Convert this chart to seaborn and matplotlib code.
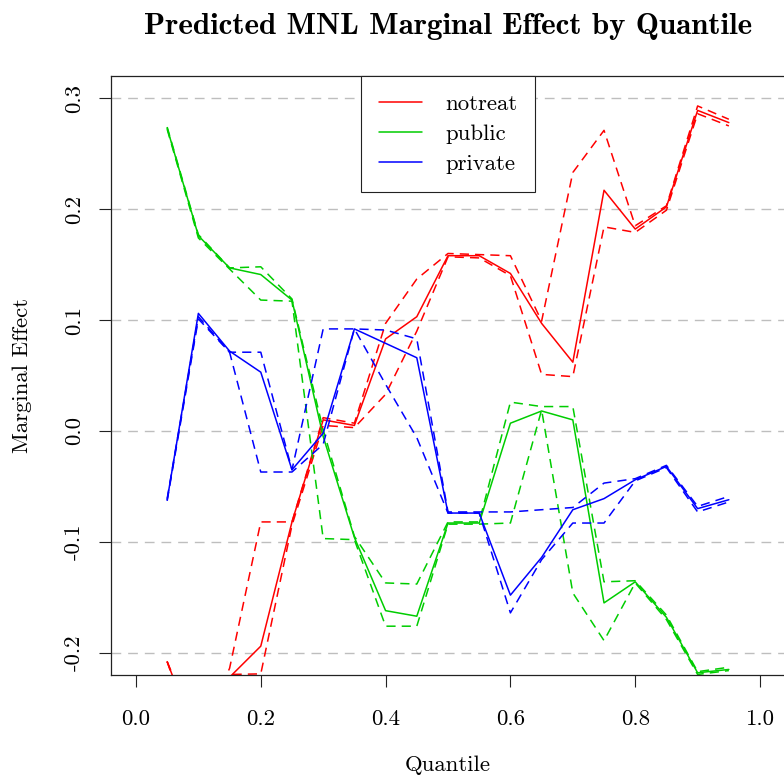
import numpy as np
import pandas as pd
import matplotlib
matplotlib.use('Agg')
import matplotlib.pyplot as plt
from matplotlib.lines import Line2D
import seaborn as sns

# quantiles where the marginal effects were predicted
quantiles = [0.05, 0.10, 0.15, 0.20, 0.25, 0.30, 0.35, 0.40, 0.45, 0.50,
             0.55, 0.60, 0.65, 0.70, 0.75, 0.80, 0.85, 0.90, 0.95]

# estimate, lower and upper band for each outcome
notreat_est = [-0.208, -0.282, -0.222, -0.194, -0.082, 0.010, 0.005, 0.083, 0.103, 0.158,
               0.158, 0.142, 0.097, 0.062, 0.217, 0.182, 0.202, 0.289, 0.278]
notreat_lo = [-0.208, -0.290, -0.2195, -0.219, -0.085, 0.005, 0.003, 0.033, 0.090, 0.157,
              0.156, 0.140, 0.051, 0.049, 0.184, 0.179, 0.199, 0.286, 0.275]
notreat_hi = [-0.208, -0.275, -0.214, -0.082, -0.082, 0.012, 0.007, 0.097, 0.137, 0.160,
              0.159, 0.158, 0.099, 0.233, 0.271, 0.185, 0.203, 0.293, 0.281]

public_est = [0.273, 0.176, 0.147, 0.141, 0.118, -0.005, -0.096, -0.162, -0.167, -0.083,
              -0.083, 0.007, 0.018, 0.010, -0.155, -0.136, -0.168, -0.218, -0.215]
public_lo = [0.272, 0.174, 0.146, 0.118, 0.117, -0.097, -0.098, -0.176, -0.176, -0.084,
             -0.084, -0.083, 0.019, -0.146, -0.189, -0.137, -0.170, -0.2195, -0.216]
public_hi = [0.274, 0.177, 0.147, 0.148, 0.119, 0.001, -0.095, -0.137, -0.138, -0.082,
             -0.082, 0.026, 0.022, 0.022, -0.136, -0.135, -0.166, -0.217, -0.213]

private_est = [-0.062, 0.106, 0.072, 0.053, -0.035, -0.002, 0.092, 0.079, 0.066, -0.074,
               -0.074, -0.148, -0.114, -0.071, -0.061, -0.044, -0.032, -0.070, -0.062]
private_lo = [-0.063, 0.101, 0.071, -0.037, -0.037, -0.012, 0.092, 0.042, -0.006, -0.074,
              -0.074, -0.164, -0.116, -0.083, -0.083, -0.045, -0.033, -0.073, -0.064]
private_hi = [-0.061, 0.103, 0.071, 0.071, -0.035, 0.092, 0.092, 0.091, 0.083, -0.073,
              -0.073, -0.073, -0.071, -0.069, -0.047, -0.043, -0.031, -0.068, -0.059]

outcomes = ['notreat', 'public', 'private']
series = {
    'notreat': (notreat_est, notreat_lo, notreat_hi),
    'public': (public_est, public_lo, public_hi),
    'private': (private_est, private_lo, private_hi),
}

rows = []
for outcome in outcomes:
    for bound, vals in zip(['est', 'lo', 'hi'], series[outcome]):
        for q, v in zip(quantiles, vals):
            rows.append({'quantile': q, 'effect': v, 'outcome': outcome, 'bound': bound})
df = pd.DataFrame(rows)

sns.set_style('ticks')
plt.rcParams['font.family'] = ['cmr10', 'DejaVu Serif']
plt.rcParams['axes.unicode_minus'] = False
plt.rcParams['text.color'] = 'black'
plt.rcParams['axes.labelcolor'] = 'black'

fs = 16.4
fig = plt.figure(figsize=(7.84, 7.76), dpi=100)
ax = fig.add_axes([111 / 784, 101 / 776, 674 / 784, 599 / 776])

palette = {'notreat': '#FF0000', 'public': '#00CD00', 'private': '#0000FF'}
dashes = {'est': '', 'lo': (6, 4), 'hi': (6, 4)}
sns.lineplot(data=df, x='quantile', y='effect', hue='outcome', style='bound',
             palette=palette, dashes=dashes, estimator=None, sort=False,
             linewidth=1.1, legend=False, ax=ax)

ax.set_xlim(-0.04, 1.04)
ax.set_ylim(-0.22, 0.32)

xt = [0.0, 0.2, 0.4, 0.6, 0.8, 1.0]
yt = [-0.2, -0.1, 0.0, 0.1, 0.2, 0.3]
ax.set_xticks(xt)
ax.set_xticklabels(['%.1f' % v for v in xt])
ax.set_yticks(yt)
ax.set_yticklabels(['%.1f' % v for v in yt], rotation=90, va='center')
ax.tick_params(direction='out', length=8.6, width=0.8, labelsize=fs, colors='#222222')
ax.tick_params(axis='x', pad=16)
ax.tick_params(axis='y', pad=11)
for lab in ax.get_xticklabels() + ax.get_yticklabels():
    lab.set_color('black')

ax.yaxis.grid(True, linestyle=(0, (7, 5)), color='#bebebe', linewidth=1.0)
ax.xaxis.grid(False)
ax.set_axisbelow(True)
for sp in ax.spines.values():
    sp.set_visible(True)
    sp.set_color('#222222')
    sp.set_linewidth(0.9)

ax.set_xlabel('')
ax.set_ylabel('')
fig.text(448 / 784, 1 - 765 / 776, 'Quantile', ha='center', va='center', fontsize=fs)
fig.text(22 / 784, 1 - 375 / 776, 'Marginal Effect', ha='center', va='center',
         rotation=90, fontsize=fs)
fig.text(448 / 784, 1 - 27 / 776, 'Predicted MNL Marginal Effect by Quantile',
         ha='center', va='center', fontsize=22.3, fontfamily='cmb10')

handles = [Line2D([], [], color=palette[k], linewidth=1.1) for k in outcomes]
leg = ax.legend(handles, outcomes, loc='upper center', bbox_to_anchor=(0.5, 1.0),
                borderaxespad=0, frameon=True, fancybox=False, edgecolor='#222222',
                framealpha=1, fontsize=fs, handlelength=1.9, handletextpad=1.0,
                borderpad=0.8, labelspacing=0.43)
leg.get_frame().set_linewidth(0.8)

fig.savefig('out.png', dpi=100)
